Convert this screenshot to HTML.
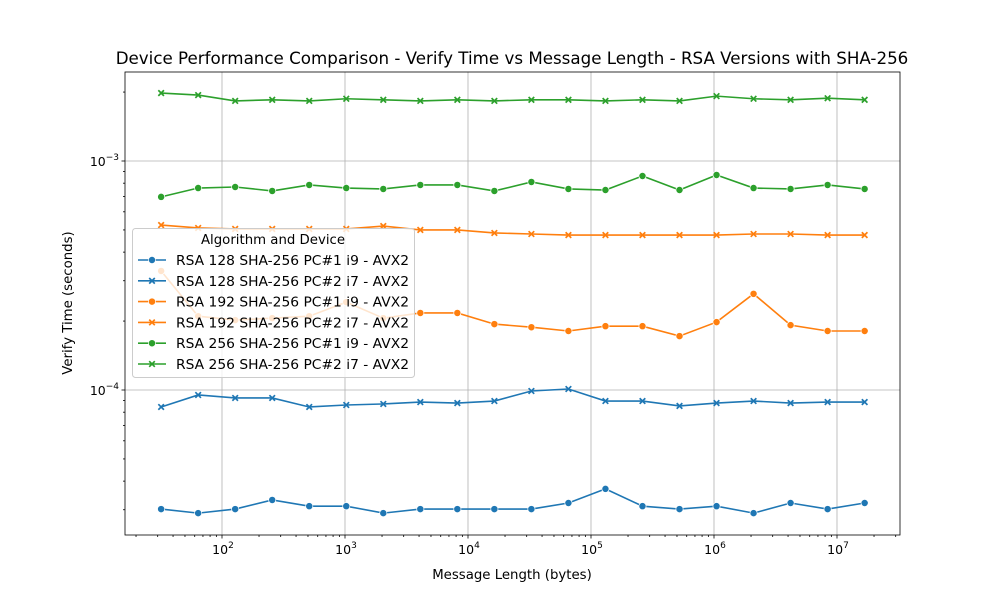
<!DOCTYPE html>
<html><head><meta charset="utf-8"><style>
body{margin:0;background:#fff;}
svg text{font-family:"DejaVu Sans","Liberation Sans",sans-serif;fill:#000;}
</style></head><body>
<svg id="chart" width="1000" height="600" xmlns="http://www.w3.org/2000/svg"></svg>
<script>
const msgLengths=[32,64,128,256,512,1024,2048,4096,8192,16384,32768,65536,131072,262144,524288,1048576,2097152,4194304,8388608,16777216];
const rsa128pc1=[3.02e-5,2.90e-5,3.02e-5,3.31e-5,3.11e-5,3.11e-5,2.90e-5,3.02e-5,3.02e-5,3.02e-5,3.02e-5,3.21e-5,3.70e-5,3.11e-5,3.02e-5,3.11e-5,2.90e-5,3.21e-5,3.02e-5,3.21e-5];
const rsa128pc2=[8.43e-5,9.51e-5,9.23e-5,9.23e-5,8.43e-5,8.6e-5,8.69e-5,8.86e-5,8.77e-5,8.95e-5,9.9e-5,10.1e-5,8.95e-5,8.95e-5,8.52e-5,8.77e-5,8.95e-5,8.77e-5,8.86e-5,8.86e-5];
const rsa192pc1=[3.31e-4,2.10e-4,2.02e-4,2.06e-4,2.10e-4,2.42e-4,2.06e-4,2.17e-4,2.17e-4,1.94e-4,1.88e-4,1.81e-4,1.90e-4,1.90e-4,1.72e-4,1.98e-4,2.63e-4,1.92e-4,1.81e-4,1.81e-4];
const rsa192pc2=[5.25e-4,5.10e-4,5.05e-4,5.05e-4,5.05e-4,5.05e-4,5.20e-4,5.0e-4,5.0e-4,4.85e-4,4.8e-4,4.75e-4,4.75e-4,4.75e-4,4.75e-4,4.75e-4,4.8e-4,4.8e-4,4.75e-4,4.75e-4];
const rsa256pc1=[6.97e-4,7.62e-4,7.70e-4,7.40e-4,7.86e-4,7.62e-4,7.55e-4,7.86e-4,7.86e-4,7.40e-4,8.10e-4,7.55e-4,7.47e-4,8.6e-4,7.47e-4,8.69e-4,7.62e-4,7.55e-4,7.86e-4,7.55e-4];
const rsa256pc2=[1.98e-3,1.94e-3,1.83e-3,1.85e-3,1.83e-3,1.87e-3,1.85e-3,1.83e-3,1.85e-3,1.83e-3,1.85e-3,1.85e-3,1.83e-3,1.85e-3,1.83e-3,1.92e-3,1.87e-3,1.85e-3,1.88e-3,1.85e-3];
const seriesLabels=["RSA 128 SHA-256 PC#1 i9 - AVX2","RSA 128 SHA-256 PC#2 i7 - AVX2","RSA 192 SHA-256 PC#1 i9 - AVX2","RSA 192 SHA-256 PC#2 i7 - AVX2","RSA 256 SHA-256 PC#1 i9 - AVX2","RSA 256 SHA-256 PC#2 i7 - AVX2"];
const xTickExps=[2,3,4,5,6,7];
const yTickExps=[-4,-3];

const NS="http://www.w3.org/2000/svg";
const svg=document.getElementById('chart');
const L=125,R=900,T=72,B=535;
function xs(v){return 222+(Math.log10(v)-2)*123;}
function ys(v){return 390-(Math.log10(v)+4)*229;}
function mk(tag,attrs,parent){const e=document.createElementNS(NS,tag);for(const k in attrs)e.setAttribute(k,attrs[k]);(parent||svg).appendChild(e);return e;}

const title=mk('text',{x:512,y:64,'text-anchor':'middle','font-size':16.7});
title.textContent="Device Performance Comparison - Verify Time vs Message Length - RSA Versions with SHA-256";



xTickExps.forEach(e=>{const x=xs(Math.pow(10,e));
 const g=mk('line',{x1:x,x2:x,y1:T,y2:B,stroke:'#b0b0b0','stroke-width':0.8});
 });
yTickExps.forEach(e=>{const y=ys(Math.pow(10,e));
 const g=mk('line',{x1:L,x2:R,y1:y,y2:y,stroke:'#b0b0b0','stroke-width':0.8});
 });

for(let e=1;e<=7;e++){for(let m=1;m<10;m++){const v=m*Math.pow(10,e);const x=xs(v);if(x<L||x>R)continue;
 mk('line',{x1:x,x2:x,y1:B,y2:B+(m==1?3.5:2),stroke:'#000','stroke-width':0.8});}}
for(let e=-5;e<=-3;e++){for(let m=1;m<10;m++){const v=m*Math.pow(10,e);const y=ys(v);if(y<T||y>B)continue;
 mk('line',{x1:L,x2:L-(m==1?3.5:2),y1:y,y2:y,stroke:'#000','stroke-width':0.8});}}
xTickExps.forEach(e=>{const x=xs(Math.pow(10,e));
 const t=mk('text',{x:x+1,y:554,'text-anchor':'middle','font-size':12.5});
 
 t.innerHTML='10<tspan font-size="9" dy="-6">'+e+'</tspan>';});
yTickExps.forEach(e=>{const y=ys(Math.pow(10,e));
 const t=mk('text',{x:119,y:y+5,'text-anchor':'end','font-size':12.5});
 
 t.innerHTML='10<tspan font-size="9" dy="-6">\u2212'+Math.abs(e)+'</tspan>';});

const xl=mk('text',{x:512,y:579,'text-anchor':'middle','font-size':13.3});xl.textContent='Message Length (bytes)';

const yl=mk('text',{x:0,y:0,'text-anchor':'middle','font-size':13.3,transform:'translate(72,303) rotate(-90)'});yl.textContent='Verify Time (seconds)';


const colors=['#1f77b4','#1f77b4','#ff7f0e','#ff7f0e','#2ca02c','#2ca02c'];
const markers=['o','x','o','x','o','x'];
const data=[rsa128pc1,rsa128pc2,rsa192pc1,rsa192pc2,rsa256pc1,rsa256pc2];
function marker(m,x,y,c,parent){
 if(m=='o'){return mk('circle',{cx:x,cy:y,r:3.6,fill:c,stroke:'#fff','stroke-width':0.7},parent);}
 const g=mk('g',{},parent);
 mk('path',{d:`M${x-2.8},${y-2.8}L${x+2.8},${y+2.8}M${x-2.8},${y+2.8}L${x+2.8},${y-2.8}`,stroke:c,'stroke-width':1.7},g);
 return g;}
data.forEach((arr,i)=>{
 const g=mk('g',{});
 const pts=arr.map((v,j)=>xs(msgLengths[j])+','+ys(v)).join(' ');
 const pl=mk('polyline',{points:pts,fill:'none',stroke:colors[i],'stroke-width':1.6},g);
 
 arr.forEach((v,j)=>{const m=marker(markers[i],xs(msgLengths[j]),ys(v),colors[i],g);
  });
});

const fr=mk('rect',{x:L,y:T,width:R-L,height:B-T,fill:'none',stroke:'#000','stroke-width':0.8});


const lg=mk('g',{});
mk('rect',{x:132.5,y:228.5,width:282,height:149,rx:3,fill:'#fff','fill-opacity':0.8,stroke:'#ccc'},lg);
const lt=mk('text',{x:273,y:244,'text-anchor':'middle','font-size':13.3},lg);lt.textContent='Algorithm and Device';
seriesLabels.forEach((s,i)=>{const y=260+i*20.8;
 const en=mk('g',{},lg);
 mk('line',{x1:138,x2:166,y1:y,y2:y,stroke:colors[i],'stroke-width':1.6},en);
 marker(markers[i],152,y,colors[i],en);
 const t=mk('text',{x:176,y:y+5,'font-size':13.3,textLength:233,lengthAdjust:'spacingAndGlyphs'},en);t.textContent=s;});
</script>
</body></html>
